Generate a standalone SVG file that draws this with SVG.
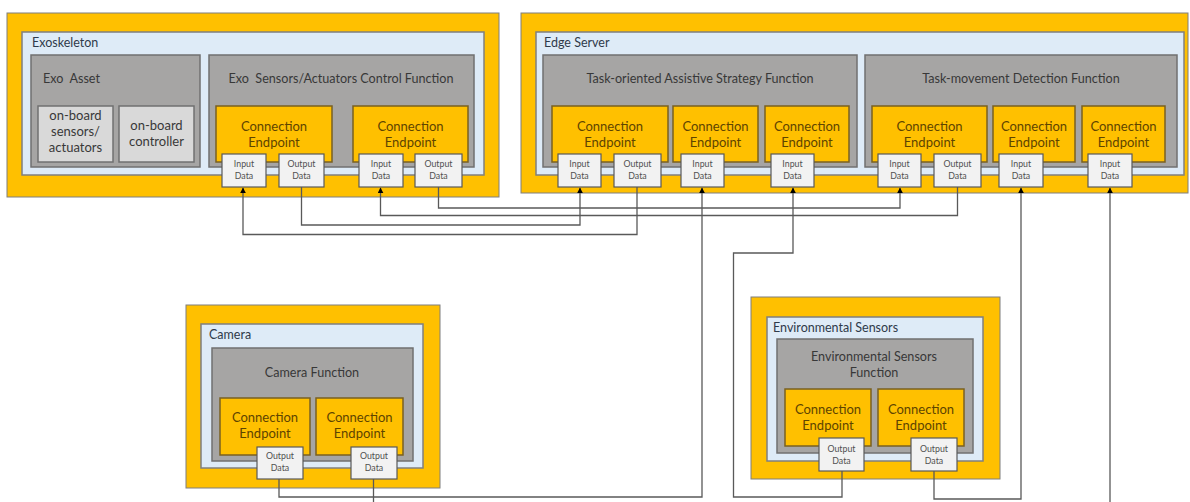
<svg xmlns="http://www.w3.org/2000/svg" width="1190" height="502" viewBox="0 0 1190 502">
  <defs>
    <style>
      .dev { fill: #FFC000; stroke: #7F7F7F; stroke-width: 1; }
      .sys { fill: #DEEBF7; stroke: #7F7F7F; stroke-width: 1.5; }
      .fn { fill: #A6A5A4; stroke: #707070; stroke-width: 1.5; }
      .hw { fill: #D9D9D9; stroke: #707070; stroke-width: 1.5; }
      .ce { fill: #FFC000; stroke: #7A6020; stroke-width: 1.5; }
      .port { fill: #F2F2F2; stroke: #595959; stroke-width: 1.2; }
      text { font-family: Lato, "Liberation Sans", sans-serif; white-space: pre; }
      .lbl { font-size: 12.5px; fill: #2F3A4A; }
      .ttl { font-size: 12.6px; fill: #383838; text-anchor: middle; }
      .asset { font-size: 12.6px; fill: #383838; }
      .hwt { font-size: 13px; fill: #383838; text-anchor: middle; }
      .cet { font-size: 13px; fill: #5E4400; text-anchor: middle; }
      .pt { font-size: 8.8px; fill: #505050; text-anchor: middle; }
      .wire { fill: none; stroke: #595959; stroke-width: 1.3; }
    </style>
    <marker id="arrow" viewBox="0 0 10 10" refX="9" refY="5" markerWidth="6" markerHeight="6" orient="auto" markerUnits="userSpaceOnUse">
      <path d="M0,0 L10,5 L0,10 z" fill="#000000"/>
    </marker>
  </defs>

  <!-- Exoskeleton device -->
  <g id="exoskeleton">
    <rect class="dev" x="7" y="13" width="492" height="184"/>
    <rect class="sys" x="22" y="32" width="462" height="143"/>
    <text class="lbl" x="32" y="47">Exoskeleton</text>
    <g id="exo-asset">
      <rect class="fn" x="31" y="55" width="169" height="112"/>
      <text class="asset" x="43" y="83">Exo  Asset</text>
      <g id="onboard-sensors">
        <rect class="hw" x="38" y="106" width="75" height="56"/>
        <text class="hwt" x="75.5" y="120">on-board</text>
        <text class="hwt" x="75.5" y="136">sensors/</text>
        <text class="hwt" x="75.5" y="152">actuators</text>
      </g>
      <g id="onboard-controller">
        <rect class="hw" x="119" y="106" width="75" height="56"/>
        <text class="hwt" x="156.5" y="130">on-board</text>
        <text class="hwt" x="156.5" y="146">controller</text>
      </g>
    </g>
    <g id="exo-control-function">
      <rect class="fn" x="209" y="55" width="265" height="112"/>
      <text class="ttl" x="341" y="83">Exo  Sensors/Actuators Control Function</text>
      <rect class="ce" x="216" y="106" width="116" height="56"/>
      <text class="cet" x="274" y="131">Connection</text>
      <text class="cet" x="274" y="147">Endpoint</text>
      <rect class="ce" x="353" y="106" width="115" height="56"/>
      <text class="cet" x="410.5" y="131">Connection</text>
      <text class="cet" x="410.5" y="147">Endpoint</text>
      <rect class="port" x="222" y="154" width="44" height="33"/>
      <text class="pt" x="244" y="167">Input</text>
      <text class="pt" x="244" y="179">Data</text>
      <rect class="port" x="279" y="154" width="45" height="33"/>
      <text class="pt" x="301.5" y="167">Output</text>
      <text class="pt" x="301.5" y="179">Data</text>
      <rect class="port" x="359" y="154" width="44" height="33"/>
      <text class="pt" x="381" y="167">Input</text>
      <text class="pt" x="381" y="179">Data</text>
      <rect class="port" x="415" y="154" width="47" height="33"/>
      <text class="pt" x="438.5" y="167">Output</text>
      <text class="pt" x="438.5" y="179">Data</text>
    </g>
  </g>

  <!-- Edge server device -->
  <g id="edge-server">
    <rect class="dev" x="521" y="13" width="667" height="180"/>
    <rect class="sys" x="536" y="32" width="648" height="143"/>
    <text class="lbl" x="544" y="47">Edge Server</text>
    <g id="assistive-strategy-function">
      <rect class="fn" x="543" y="55" width="314" height="112"/>
      <text class="ttl" x="700" y="83">Task-oriented Assistive Strategy Function</text>
      <rect class="ce" x="552" y="106" width="116" height="56"/>
      <text class="cet" x="610" y="131">Connection</text>
      <text class="cet" x="610" y="147">Endpoint</text>
      <rect class="ce" x="673" y="106" width="85" height="56"/>
      <text class="cet" x="715.5" y="131">Connection</text>
      <text class="cet" x="715.5" y="147">Endpoint</text>
      <rect class="ce" x="765" y="106" width="84" height="56"/>
      <text class="cet" x="807" y="131">Connection</text>
      <text class="cet" x="807" y="147">Endpoint</text>
      <rect class="port" x="558" y="154" width="43" height="33"/>
      <text class="pt" x="579.5" y="167">Input</text>
      <text class="pt" x="579.5" y="179">Data</text>
      <rect class="port" x="614" y="154" width="47" height="33"/>
      <text class="pt" x="637.5" y="167">Output</text>
      <text class="pt" x="637.5" y="179">Data</text>
      <rect class="port" x="681" y="154" width="43" height="33"/>
      <text class="pt" x="702.5" y="167">Input</text>
      <text class="pt" x="702.5" y="179">Data</text>
      <rect class="port" x="771" y="154" width="43" height="33"/>
      <text class="pt" x="792.5" y="167">Input</text>
      <text class="pt" x="792.5" y="179">Data</text>
    </g>
    <g id="movement-detection-function">
      <rect class="fn" x="865" y="55" width="312" height="112"/>
      <text class="ttl" x="1021" y="83">Task-movement Detection Function</text>
      <rect class="ce" x="872" y="106" width="115" height="56"/>
      <text class="cet" x="929.5" y="131">Connection</text>
      <text class="cet" x="929.5" y="147">Endpoint</text>
      <rect class="ce" x="993" y="106" width="82" height="56"/>
      <text class="cet" x="1034" y="131">Connection</text>
      <text class="cet" x="1034" y="147">Endpoint</text>
      <rect class="ce" x="1082" y="106" width="83" height="56"/>
      <text class="cet" x="1123.5" y="131">Connection</text>
      <text class="cet" x="1123.5" y="147">Endpoint</text>
      <rect class="port" x="878" y="154" width="43" height="33"/>
      <text class="pt" x="899.5" y="167">Input</text>
      <text class="pt" x="899.5" y="179">Data</text>
      <rect class="port" x="934" y="154" width="47" height="33"/>
      <text class="pt" x="957.5" y="167">Output</text>
      <text class="pt" x="957.5" y="179">Data</text>
      <rect class="port" x="999" y="154" width="44" height="33"/>
      <text class="pt" x="1021" y="167">Input</text>
      <text class="pt" x="1021" y="179">Data</text>
      <rect class="port" x="1088" y="154" width="44" height="33"/>
      <text class="pt" x="1110" y="167">Input</text>
      <text class="pt" x="1110" y="179">Data</text>
    </g>
  </g>

  <!-- Camera device -->
  <g id="camera">
    <rect class="dev" x="186" y="305" width="254" height="183"/>
    <rect class="sys" x="201" y="324" width="222" height="144"/>
    <text class="lbl" x="209" y="339">Camera</text>
    <g id="camera-function">
      <rect class="fn" x="212" y="348" width="201" height="113"/>
      <text class="ttl" x="312" y="377">Camera Function</text>
      <rect class="ce" x="220" y="398" width="90" height="57"/>
      <text class="cet" x="265" y="422">Connection</text>
      <text class="cet" x="265" y="438">Endpoint</text>
      <rect class="ce" x="316" y="398" width="87" height="57"/>
      <text class="cet" x="359.5" y="422">Connection</text>
      <text class="cet" x="359.5" y="438">Endpoint</text>
      <rect class="port" x="257" y="447" width="46" height="32"/>
      <text class="pt" x="280" y="459">Output</text>
      <text class="pt" x="280" y="471">Data</text>
      <rect class="port" x="351" y="447" width="46" height="32"/>
      <text class="pt" x="374" y="459">Output</text>
      <text class="pt" x="374" y="471">Data</text>
    </g>
  </g>

  <!-- Environmental sensors device -->
  <g id="environmental-sensors">
    <rect class="dev" x="751" y="297" width="249" height="182"/>
    <rect class="sys" x="767" y="317" width="216" height="144"/>
    <text class="lbl" x="773" y="332">Environmental Sensors</text>
    <g id="environmental-sensors-function">
      <rect class="fn" x="777" y="339" width="196" height="114"/>
      <text class="ttl" x="874" y="361">Environmental Sensors</text>
      <text class="ttl" x="874" y="377">Function</text>
      <rect class="ce" x="785" y="389" width="86" height="57"/>
      <text class="cet" x="828" y="414">Connection</text>
      <text class="cet" x="828" y="430">Endpoint</text>
      <rect class="ce" x="878" y="389" width="86" height="57"/>
      <text class="cet" x="921" y="414">Connection</text>
      <text class="cet" x="921" y="430">Endpoint</text>
      <rect class="port" x="819" y="438" width="45" height="33"/>
      <text class="pt" x="841.5" y="452">Output</text>
      <text class="pt" x="841.5" y="464">Data</text>
      <rect class="port" x="911" y="438" width="46" height="33"/>
      <text class="pt" x="934" y="452">Output</text>
      <text class="pt" x="934" y="464">Data</text>
    </g>
  </g>

  <!-- Data flows between endpoints -->
  <g id="connectors">
    <polyline class="wire" points="637,187 637,234.5 243,234.5 243,188" marker-end="url(#arrow)"/>
    <polyline class="wire" points="301.5,187 301.5,225 580,225 580,188" marker-end="url(#arrow)"/>
    <polyline class="wire" points="957.5,187 957.5,215.5 380.5,215.5 380.5,188" marker-end="url(#arrow)"/>
    <polyline class="wire" points="438.5,187 438.5,208 900,208 900,188" marker-end="url(#arrow)"/>
    <polyline class="wire" points="279,479 279,497 702,497 702,188" marker-end="url(#arrow)"/>
    <polyline class="wire" points="842,471 842,497 733.5,497 733.5,253 793,253 793,188" marker-end="url(#arrow)"/>
    <polyline class="wire" points="934,471 934,499 1021,499 1021,188" marker-end="url(#arrow)"/>
    <polyline class="wire" points="1110,502 1110,188" marker-end="url(#arrow)"/>
    <polyline class="wire" points="373.5,479 373.5,502"/>
  </g>
</svg>
